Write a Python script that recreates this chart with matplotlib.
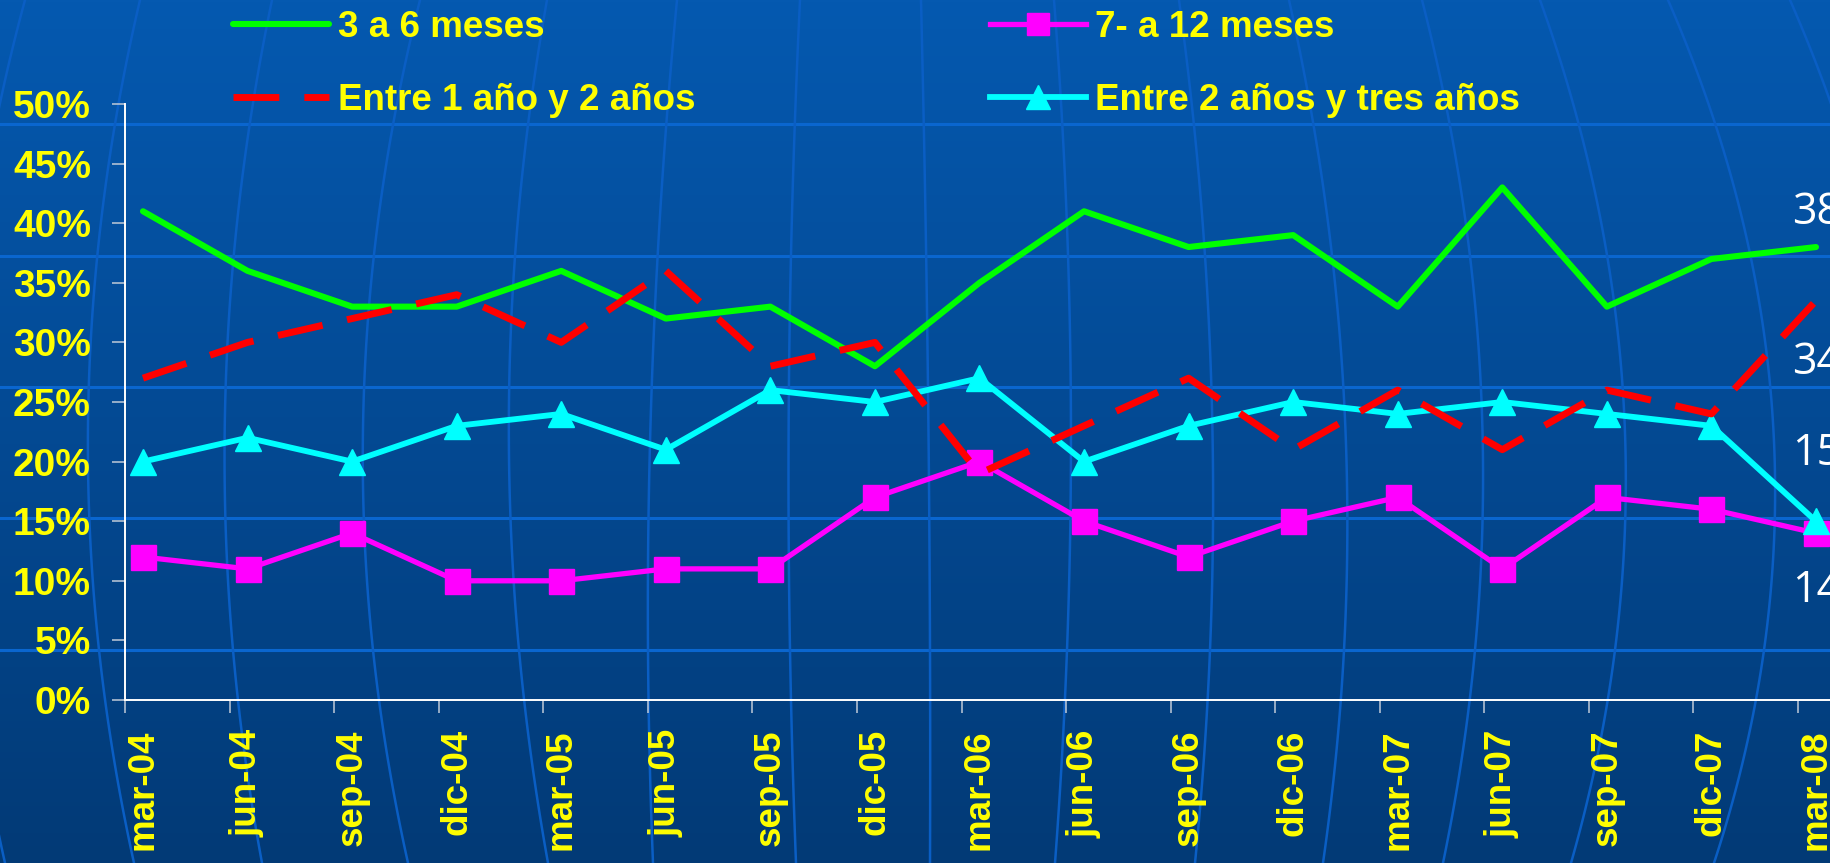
import numpy as np
import matplotlib as mpl
mpl.use('Agg')
import matplotlib.pyplot as plt

months = ['mar-04', 'jun-04', 'sep-04', 'dic-04', 'mar-05', 'jun-05', 'sep-05',
          'dic-05', 'mar-06', 'jun-06', 'sep-06', 'dic-06', 'mar-07', 'jun-07',
          'sep-07', 'dic-07', 'mar-08']

# percent values
tres_seis = [41, 36, 33, 33, 36, 32, 33, 28, 35, 41, 38, 39, 33, 43, 33, 37, 38]
siete_doce = [12, 11, 14, 10, 10, 11, 11, 17, 20, 15, 12, 15, 17, 11, 17, 16, 14]
uno_dos = [27, 30, 32, 34, 30, 36, 28, 30, 19, 23, 27, 21, 26, 21, 26, 24, 33.5]
dos_tres = [20, 22, 20, 23, 24, 21, 26, 25, 27, 20, 23, 25, 24, 25, 24, 23, 15]

series_names = ['3 a 6 meses', '7- a 12 meses', 'Entre 1 año y 2 años',
                'Entre 2 años y tres años']
end_labels = ['38', '34', '15', '14']

YELLOW = '#FFFF00'

W, H = 1830, 863
fig = plt.figure(figsize=(W/100, H/100), dpi=100)

# background: blue gradient + template grid lines
bg = fig.add_axes([0, 0, 1, 1], zorder=-1)
grad = np.linspace(0, 1, 256).reshape(-1, 1)
cmap = mpl.colors.LinearSegmentedColormap.from_list('bg', ['#0559B0', '#023A76'])
bg.imshow(grad, aspect='auto', cmap=cmap, extent=(0, W, H, 0))
bg.set_xlim(0, W)
bg.set_ylim(H, 0)
bg.axis('off')

for yy in [124, 256, 387, 518, 650]:
    bg.axhline(yy, color='#0A66CF', lw=2.2)

meridians = [
    (140, 99, 134), (272, 233, 262), (420, 373, 408), (547, 519, 548),
    (677, 648, 653), (800, 790, 796), (921, 930, 930), (1054, 1067, 1055),
    (1179, 1210, 1195), (1289, 1344, 1323), (1422, 1475, 1443),
    (1540, 1615, 1571), (1668, 1764, 1714), (25, -30, 5), (1790, 1900, 1860),
]
ys = np.linspace(0, H, 100)
for xt, xm, xb in meridians:
    c = np.polyfit([0, 650, H], [xt, xm, xb], 2)
    bg.plot(np.polyval(c, ys), ys, color='#0A5EC4', lw=1.8)

# chart
ax = fig.add_axes([125/W, 1 - 700/H, 1 - 125/W, (700 - 104)/H])
ax.patch.set_alpha(0)
x = np.arange(len(months))

ax.plot(x, tres_seis, color='#00FF00', lw=4.4, solid_joinstyle='round',
        solid_capstyle='round', label=series_names[0], zorder=3)
ax.plot(x, siete_doce, color='#FF00FF', lw=3.8, marker='s', markersize=18,
        label=series_names[1], zorder=3.1)
ax.plot(x, dos_tres, color='#00FFFF', lw=4.2, marker='^', markersize=19,
        label=series_names[3], zorder=3.2)
ax.plot(x, uno_dos, color='#FF0000', lw=5, dashes=(6.6, 3.6),
        label=series_names[2], zorder=3.3)

ax.set_xlim(-0.172, 16.134)
ax.set_ylim(0, 50)

for side in ['top', 'right']:
    ax.spines[side].set_visible(False)
for side in ['left', 'bottom']:
    ax.spines[side].set_color('white')
    ax.spines[side].set_linewidth(1.4)

ax.set_yticks(np.arange(0, 51, 5))
ax.set_yticklabels([f'{v}%' for v in range(0, 51, 5)])
ax.tick_params(axis='y', direction='out', length=9.5, width=1.1,
               color='#C0CAD8', pad=15, labelcolor=YELLOW)
for t in ax.get_yticklabels():
    t.set_fontfamily('Liberation Sans')
    t.set_fontweight('bold')
    t.set_fontsize(28)

ax.set_xticks(x)
ax.set_xticklabels(months, rotation=90, va='top', ha='center')
ax.set_xticks(x - 0.172, minor=True)
ax.tick_params(axis='x', which='major', length=0, pad=21, labelcolor=YELLOW)
ax.tick_params(axis='x', which='minor', direction='out', length=9.5,
               width=1.1, color='#C0CAD8')
for t in ax.get_xticklabels():
    t.set_fontfamily('Liberation Sans')
    t.set_fontweight('bold')
    t.set_fontsize(26.5)

# value labels at the right edge (cut off like the original)
label_y = [40.9, 28.3, 20.7, 9.2]
for txt, yv in zip(end_labels, label_y):
    ax.text(15.77, yv, txt, color='white', fontsize=31, family='Open Sans',
            va='center', ha='left', clip_on=False)

handles, labels = ax.get_legend_handles_labels()
order = [0, 3, 1, 2]
leg = fig.legend([handles[i] for i in order], [labels[i] for i in order],
                 ncol=2, loc='upper left', bbox_to_anchor=(233/W, 1 - 10/H),
                 frameon=False, borderpad=0, borderaxespad=0,
                 handlelength=2.6, handletextpad=0.25,
                 columnspacing=8.0, labelspacing=1.02, numpoints=1,
                 markerscale=0.9,
                 prop={'family': 'Liberation Sans', 'weight': 'bold',
                       'size': 26.5})
for t in leg.get_texts():
    t.set_color(YELLOW)

fig.savefig('out.png', dpi=100)
